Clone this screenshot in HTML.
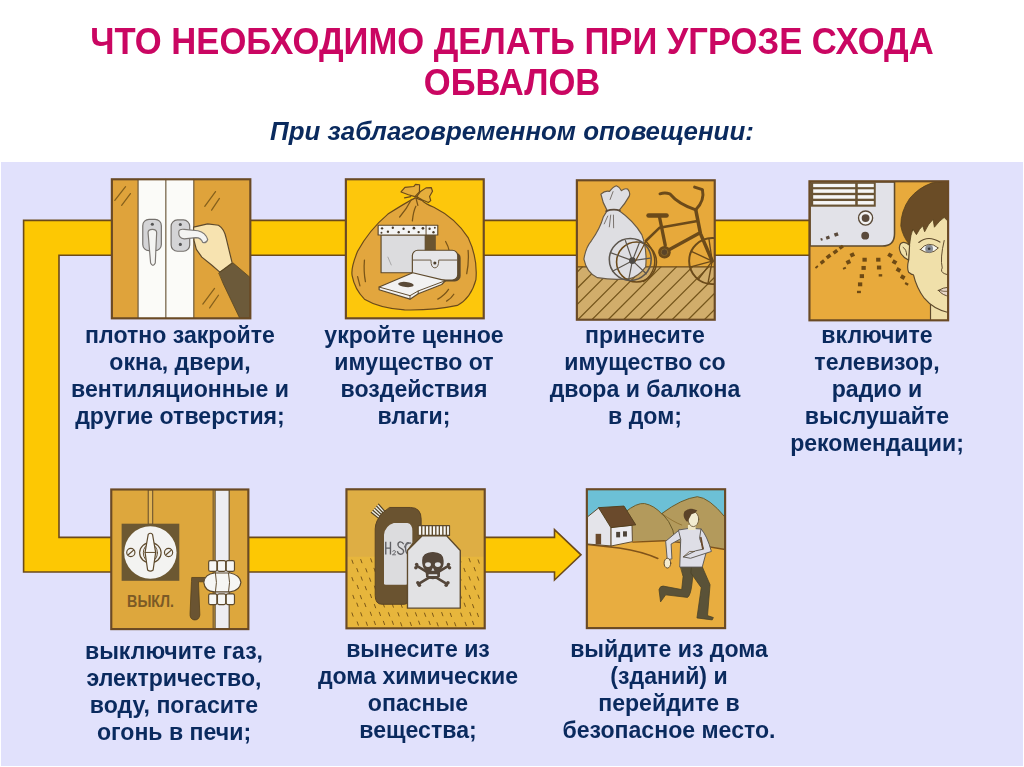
<!DOCTYPE html>
<html><head><meta charset="utf-8">
<style>
html,body{margin:0;padding:0;}
body{width:1024px;height:767px;overflow:hidden;background:#fff;position:relative;font-family:"Liberation Sans",sans-serif;}
#bg{position:absolute;left:1px;top:162px;width:1021.5px;height:604px;background:#e1e1fc;}
#title{position:absolute;left:0px;top:22.2px;width:1024px;text-align:center;color:#ca0662;font-weight:bold;font-size:34.6px;line-height:41px;}
#title div{transform:scaleY(1.05);transform-origin:50% 79.1%;}
#sub{position:absolute;left:0;top:115.9px;width:1024px;text-align:center;color:#0a2a5e;font-weight:bold;font-style:italic;font-size:25.9px;line-height:30px;}
.cap{position:absolute;text-align:center;color:#0a2a5e;font-weight:bold;font-size:23.1px;line-height:27px;width:300px;white-space:nowrap;}
svg{position:absolute;left:0;top:0;}
#title,#sub,.cap{will-change:transform;}
</style></head><body>
<div id="bg"></div>
<div id="title"><div>ЧТО НЕОБХОДИМО ДЕЛАТЬ ПРИ УГРОЗЕ СХОДА</div><div>ОБВАЛОВ</div></div>
<div id="sub">При заблаговременном оповещении:</div>
<svg id="art" width="1024" height="767" viewBox="0 0 1024 767">
<path d="M23.6,220.4 H830 V255.2 H59 V537.4 H554.5 V529.6 L581,554.8 L554.5,580 V572 H23.6 Z" fill="#fdc803" stroke="#6b4a1a" stroke-width="1.6" stroke-linejoin="miter"/>
<!-- P1 window -->
<g transform="translate(106,174) scale(0.195567)" stroke-linejoin="round" stroke-linecap="round">
<rect x="30" y="27" width="708" height="711" fill="#dfa33b"/>
<!-- white frame -->
<rect x="164" y="27" width="285" height="711" fill="#fbfbf8"/>
<g stroke="#6d5a3c" stroke-width="6" fill="none">
<path d="M164,27V738M306,27V738M449,27V738"/>
</g>
<!-- reflections -->
<g stroke="#85601c" stroke-width="6.5" fill="none">
<path d="M45,135L100,65M80,160L125,100"/>
<path d="M505,165L560,90M540,185L580,125"/>
<path d="M495,665L555,585M530,685L575,620"/>
</g>
<!-- left handle -->
<rect x="188" y="232" width="95" height="160" rx="32" fill="#d4d4d6" stroke="#74706c" stroke-width="6"/>
<circle cx="237" cy="257" r="8" fill="#555"/>
<path d="M215,300 Q215,283 237,283 Q259,283 259,300 L252,455 Q240,480 228,455 Z" fill="#f4f4f2" stroke="#7c7874" stroke-width="6"/>
<!-- right handle -->
<rect x="333" y="235" width="95" height="160" rx="32" fill="#d4d4d6" stroke="#74706c" stroke-width="6"/>
<circle cx="380" cy="258" r="8" fill="#555"/>
<circle cx="380" cy="360" r="8" fill="#555"/>
<!-- hand -->
<path d="M448,272 L520,255 L575,262 Q605,280 615,330 L645,455 L582,502 L540,465 L490,425 L462,385 L450,340 Z" fill="#f7e3b0" stroke="#5e4a2c" stroke-width="6"/>
<!-- lever -->
<path d="M372,297 Q372,280 400,283 L470,290 Q510,300 520,335 Q515,355 495,350 Q485,325 460,325 L400,332 Q370,330 372,297 Z" fill="#f4f4f2" stroke="#7c7874" stroke-width="6"/>
<!-- sleeve -->
<path d="M578,505 L650,455 L738,530 L738,738 L684,738 L600,562 Z" fill="#6c5a3a" stroke="#54421f" stroke-width="4"/>
<rect x="30" y="27" width="708" height="711" fill="none" stroke="#6a4a25" stroke-width="11" stroke-linejoin="miter"/>
</g>
<!-- P2 bag -->
<g transform="translate(340,174) scale(0.195567)" stroke-linejoin="round" stroke-linecap="round">
<rect x="30" y="27" width="705" height="711" fill="#fdc70c"/>
<!-- bag -->
<path d="M385,122 Q330,150 245,205 Q150,285 90,395 Q55,480 62,520 Q75,590 125,640 Q200,685 330,695 Q480,698 600,672 Q670,635 695,540 Q705,430 655,325 Q590,225 480,170 Q430,150 420,135 Z" fill="#e2a63e" stroke="#6b4a1a" stroke-width="6"/>
<!-- knot -->
<path d="M383,116 L350,106 L312,92 L332,68 L377,64 L386,53 L407,55 L406,91 Z" fill="#e6ae3c" stroke="#6b4a1a" stroke-width="6"/>
<path d="M392,116 L410,91 L440,71 L467,70 L473,88 L458,115 L464,136 L452,146 L422,133 Z" fill="#e6ae3c" stroke="#6b4a1a" stroke-width="6"/>
<path d="M330,122 L362,116 M383,116 L398,118" stroke="#6b4a1a" stroke-width="6" fill="none"/>
<!-- creases -->
<g stroke="#7a5518" stroke-width="6.5" fill="none">
<path d="M305,220 Q340,180 365,130 M370,240 Q375,190 388,165 M390,130 L398,160"/>
<path d="M125,440 Q120,500 130,550 M90,525 L102,572"/>
<path d="M655,390 Q660,450 648,510"/>
<path d="M500,640 Q535,620 555,590 M545,650 Q570,635 582,615"/>
<path d="M540,345 Q555,370 560,400"/>
</g>
<!-- hat box side dark -->
<rect x="436" y="312" width="54" height="80" fill="#6a5430"/>
<!-- hat box body -->
<rect x="210" y="312" width="226" height="193" fill="#dcdcde" stroke="#5e4a2c" stroke-width="6"/>
<path d="M245,425 L262,465" stroke="#999" stroke-width="4"/>
<!-- lid -->
<rect x="195" y="262" width="305" height="50" fill="#f4f4f4" stroke="#5e4a2c" stroke-width="6"/>
<path d="M440,262V312" stroke="#5e4a2c" stroke-width="5"/>
<g fill="#4a3c2a">
<circle cx="215" cy="278" r="6"/><circle cx="245" cy="295" r="6"/><circle cx="270" cy="275" r="6"/><circle cx="300" cy="298" r="6"/><circle cx="325" cy="280" r="6"/><circle cx="352" cy="296" r="6"/><circle cx="378" cy="277" r="7"/><circle cx="402" cy="297" r="6"/><circle cx="424" cy="278" r="7"/><circle cx="458" cy="280" r="6"/><circle cx="478" cy="298" r="6"/><circle cx="485" cy="275" r="5"/><circle cx="212" cy="300" r="5"/>
</g>
<!-- purse shadow -->
<rect x="385" y="400" width="232" height="150" rx="30" fill="#5e4a2c"/>
<rect x="370" y="390" width="232" height="152" rx="28" fill="#e6e6e8" stroke="#5e4a2c" stroke-width="6"/>
<path d="M372,440 H465 Q465,480 485,480 Q505,480 505,440 H600" fill="none" stroke="#6a5a44" stroke-width="5"/>
<circle cx="485" cy="455" r="8" fill="#4a3c2a"/>
<!-- book -->
<path d="M200,578 L372,505 L540,545 L520,565 L400,612 L358,640 L200,592 Z" fill="#f2f2f2" stroke="#5e4a2c" stroke-width="6"/>
<path d="M200,578 L358,622 L400,598 L540,545 M358,622 V640 M400,598 V612" fill="none" stroke="#5e4a2c" stroke-width="5"/>
<ellipse cx="337" cy="565" rx="40" ry="13" fill="#5a4a38" transform="rotate(6 337 565)"/>
<rect x="30" y="27" width="705" height="711" fill="none" stroke="#6a4a25" stroke-width="11" stroke-linejoin="miter"/>
</g>
<!-- P3 bike -->
<g transform="translate(571,175) scale(0.195567)" stroke-linejoin="round" stroke-linecap="round">
<defs>
<clipPath id="cp3"><rect x="30" y="27" width="705" height="713"/></clipPath>
</defs>
<rect x="30" y="27" width="705" height="713" fill="#e7a93b"/>
<g clip-path="url(#cp3)">
<rect x="30" y="470" width="705" height="270" fill="#d1ad6b"/>
<path d="M30,470H735" stroke="#6b4a1a" stroke-width="6"/>
<g stroke="#75561c" stroke-width="6.5" fill="none">
<path d="M-212,740L58,470M-129,740L141,470M-47,740L223,470M35,740L305,470M107,740L377,470M190,740L460,470M269,740L539,470M351,740L621,470M434,740L704,470M517,740L787,470M599,740L869,470M682,740L952,470"/>
</g>
<!-- rear(right) wheel -->
<g stroke="#6b4a1a" fill="none">
<circle cx="722" cy="440" r="118" stroke-width="10"/>
<path d="M722,440L615,390M722,440L612,470M722,440L650,535M722,440L705,325M722,440L700,555" stroke-width="7"/>
</g>
<!-- sack -->
<path d="M185,182 Q160,140 153,98 Q175,78 197,84 Q215,60 232,55 Q250,62 258,80 Q275,66 290,72 Q305,90 298,108 Q275,150 245,182 Q320,235 362,305 Q390,380 382,470 Q345,520 300,530 Q220,540 135,525 Q80,500 66,430 Q75,370 105,335 Q150,270 165,215 Z" fill="#dedee2" stroke="#6a5a44" stroke-width="6"/>
<path d="M180,185 Q215,172 250,182" stroke="#5a4a3a" stroke-width="9" fill="none"/>
<path d="M200,125L215,85M188,210L170,250M203,205L196,265M217,205L218,270" stroke="#77706a" stroke-width="5" fill="none"/>
<!-- second wheel brown behind -->
<g stroke="#6b4a1a" fill="none">
<circle cx="335" cy="445" r="102" stroke-width="8"/>
<path d="M380,335 Q440,400 425,470 Q410,520 370,545" stroke-width="7"/>
</g>
<!-- front small wheel gray -->
<g stroke="#5c564e" fill="none">
<circle cx="303" cy="432" r="107" stroke-width="8"/>
<path d="M314,438L205,398M314,438L212,492M314,438L295,535M314,438L278,335M314,438L352,340M314,438L405,425M314,438L385,505" stroke-width="6"/>
</g>
<circle cx="314" cy="438" r="17" fill="#4e4a44"/>
<!-- frame -->
<g stroke="#6b4a1a" fill="none">
<path d="M397,207H488" stroke-width="24"/>
<path d="M452,212L482,360" stroke-width="17"/>
<path d="M385,335L452,270L640,237" stroke-width="13"/>
<path d="M478,395L655,298" stroke-width="17"/>
<path d="M638,178L662,300L722,440" stroke-width="18"/>
<path d="M455,96 Q480,88 505,96 Q550,150 638,178" stroke-width="15"/>
<path d="M638,178 Q685,130 672,75 L632,62" stroke-width="15"/>
<path d="M385,335L330,440" stroke-width="6"/>
</g>
<circle cx="478" cy="395" r="32" fill="#6b4a1a"/>
<circle cx="478" cy="395" r="17" fill="#5a4428" stroke="#8a6a30" stroke-width="4"/>
</g>
<rect x="30" y="27" width="705" height="713" fill="none" stroke="#6a4a25" stroke-width="11" stroke-linejoin="miter"/>
</g>
<!-- P4 radio -->
<g transform="translate(803,176) scale(0.195567)" stroke-linejoin="round" stroke-linecap="round">
<defs><clipPath id="cp4"><rect x="33" y="27" width="709" height="711"/></clipPath></defs>
<rect x="33" y="27" width="709" height="711" fill="#e8aa3c"/>
<g clip-path="url(#cp4)">
<!-- radio -->
<path d="M36,30 H468 V295 Q468,358 405,358 H36 Z" fill="#e2e2e8" stroke="#5e4a2c" stroke-width="8"/>
<rect x="40" y="33" width="332" height="124" fill="#6a5434"/>
<g fill="#f6f6f6">
<rect x="52" y="40" width="215" height="17"/><rect x="52" y="68" width="215" height="18"/><rect x="52" y="98" width="215" height="18"/><rect x="52" y="128" width="215" height="18"/>
<rect x="280" y="40" width="82" height="17"/><rect x="280" y="68" width="82" height="18"/><rect x="280" y="98" width="82" height="18"/><rect x="280" y="128" width="82" height="18"/>
</g>
<circle cx="320" cy="215" r="36" fill="#f2f2f2" stroke="#5a4a38" stroke-width="7"/>
<circle cx="320" cy="215" r="20" fill="#5a4a3c"/>
<circle cx="318" cy="305" r="20" fill="#5a4a3c"/>
<g fill="#5a4a3c"><rect x="160" y="290" width="20" height="18" transform="rotate(-20 170 299)"/><rect x="118" y="307" width="18" height="16" transform="rotate(-20 127 315)"/><rect x="90" y="318" width="10" height="12" transform="rotate(-20 95 324)"/></g>
<!-- sound dots -->
<g fill="#6e4a14">
<g transform="rotate(-38 195 365)"><rect x="185" y="357" width="22" height="16"/></g>
<g transform="rotate(-38 165 388)"><rect x="154" y="379" width="24" height="18"/></g>
<g transform="rotate(-38 130 412)"><rect x="119" y="403" width="24" height="18"/></g>
<g transform="rotate(-38 98 440)"><rect x="88" y="432" width="22" height="17"/></g>
<g transform="rotate(-38 70 465)"><rect x="62" y="460" width="16" height="10"/></g>
<g transform="rotate(-25 252 403)"><rect x="241" y="393" width="22" height="20"/></g>
<g transform="rotate(-25 232 440)"><rect x="221" y="430" width="22" height="20"/></g>
<g transform="rotate(-25 212 472)"><rect x="204" y="467" width="16" height="10"/></g>
<rect x="304" y="418" width="22" height="20"/><rect x="299" y="460" width="22" height="20"/><rect x="290" y="502" width="22" height="20"/><rect x="281" y="544" width="22" height="20"/><rect x="276" y="587" width="20" height="12"/>
<rect x="374" y="418" width="22" height="20"/><rect x="378" y="458" width="22" height="20"/><rect x="387" y="502" width="18" height="12"/>
<g transform="rotate(30 445 405)"><rect x="434" y="395" width="22" height="20"/></g>
<g transform="rotate(30 468 440)"><rect x="457" y="430" width="22" height="20"/></g>
<g transform="rotate(30 488 480)"><rect x="477" y="470" width="22" height="20"/></g>
<g transform="rotate(30 510 517)"><rect x="499" y="507" width="22" height="20"/></g>
<g transform="rotate(30 530 552)"><rect x="521" y="546" width="18" height="12"/></g>
</g>
<!-- neck -->
<path d="M652,640 L652,745 L750,745 L750,660 Z" fill="#efdfa8" stroke="#5e4a2c" stroke-width="6"/>
<!-- face -->
<path d="M548,290 Q540,360 540,430 Q530,470 540,492 Q555,505 565,505 Q580,570 620,625 Q670,685 750,700 L750,200 L600,230 Z" fill="#f0e0aa" stroke="#5e4a2c" stroke-width="6"/>
<!-- ear -->
<path d="M545,355 Q520,330 500,345 Q485,365 500,395 Q515,420 540,430 Z" fill="#f0e0aa" stroke="#5e4a2c" stroke-width="6"/>
<path d="M512,365 Q530,375 530,405" fill="none" stroke="#5e4a2c" stroke-width="5"/>
<!-- hair -->
<path d="M750,25 L660,35 Q590,60 545,115 Q500,180 500,255 Q510,310 545,352 Q550,300 562,272 L580,300 Q595,270 612,255 L622,285 Q640,245 665,222 L672,262 Q700,225 722,212 L750,240 Z" fill="#6a4c26" stroke="#54401e" stroke-width="4"/>
<!-- eye -->
<path d="M600,376 Q640,326 692,368 Q650,412 600,376 Z" fill="#f6f6f0" stroke="#5e4a2c" stroke-width="5"/>
<circle cx="645" cy="372" r="20" fill="#8a8f96"/>
<circle cx="645" cy="372" r="7" fill="#3a3a3a"/>
<path d="M592,340 Q640,300 700,338" fill="none" stroke="#5e4a2c" stroke-width="6"/>
<!-- nose -->
<path d="M722,330 Q700,420 712,470 Q700,490 725,500 L750,508" fill="none" stroke="#5e4a2c" stroke-width="5"/>
<!-- mouth -->
<path d="M692,585 Q715,570 750,568 L750,615 Q715,612 692,585 Z" fill="#e8d8c8" stroke="#5e4a2c" stroke-width="5"/>
<path d="M692,585 Q720,592 750,590" fill="none" stroke="#5e4a2c" stroke-width="4"/>
</g>
<rect x="33" y="27" width="709" height="711" fill="none" stroke="#6a4a25" stroke-width="11" stroke-linejoin="miter"/>
</g>
<!-- P5 switch/valve -->
<g transform="translate(105,484) scale(0.195567)" stroke-linejoin="round" stroke-linecap="round">
<rect x="32" y="28" width="701" height="714" fill="#dda73d"/>
<!-- wire -->
<rect x="223" y="30" width="21" height="176" fill="#e3b555" stroke="#5e4a2c" stroke-width="5"/>
<!-- panel -->
<rect x="85" y="203" width="295" height="292" fill="#6c5832"/>
<circle cx="232" cy="350" r="134" fill="#f3f3f1"/>
<!-- toggle -->
<ellipse cx="232" cy="352" rx="55" ry="52" fill="none" stroke="#5e4a2c" stroke-width="6"/>
<ellipse cx="232" cy="352" rx="36" ry="46" fill="none" stroke="#5e4a2c" stroke-width="5"/>
<path d="M221,258 Q232,246 243,258 L259,350 L246,440 Q232,452 218,440 L205,350 Z" fill="#f8f8f6" stroke="#5e4a2c" stroke-width="6"/>
<path d="M205,350H259" stroke="#5e4a2c" stroke-width="5"/>
<!-- screws -->
<circle cx="132" cy="350" r="21" fill="#f3f3f1" stroke="#5e4a2c" stroke-width="6"/>
<path d="M119,362L146,338" stroke="#5e4a2c" stroke-width="6"/>
<circle cx="325" cy="350" r="21" fill="#f3f3f1" stroke="#5e4a2c" stroke-width="6"/>
<path d="M312,362L339,338" stroke="#5e4a2c" stroke-width="6"/>
<!-- text -->
<text x="113" y="628" font-family="Liberation Sans, sans-serif" font-weight="bold" font-size="82" fill="#7b5a26" textLength="240" lengthAdjust="spacingAndGlyphs">ВЫКЛ.</text>
<!-- pipe -->
<path d="M553,30V740" stroke="#5e4a2c" stroke-width="5"/>
<rect x="563" y="30" width="72" height="712" fill="#ededf2" stroke="#5e4a2c" stroke-width="6"/>
<!-- handle -->
<path d="M445,478 H520 V500 H478 L485,670 Q480,698 455,695 Q432,690 435,660 L442,500 Z" fill="#6a5432" stroke="#54401e" stroke-width="4"/>
<!-- nuts -->
<g fill="#f6f6f4" stroke="#5e4a2c" stroke-width="6">
<rect x="530" y="392" width="42" height="55" rx="8"/><rect x="575" y="392" width="42" height="55" rx="8"/><rect x="620" y="392" width="42" height="55" rx="8"/>
<rect x="530" y="562" width="42" height="55" rx="8"/><rect x="575" y="562" width="42" height="55" rx="8"/><rect x="620" y="562" width="42" height="55" rx="8"/>
<path d="M505,503 Q510,460 560,455 H640 Q690,465 695,503 Q690,545 640,552 H560 Q510,548 505,503 Z"/>
</g>
<path d="M565,457 Q575,503 565,550 M632,457 Q642,503 632,550" fill="none" stroke="#5e4a2c" stroke-width="5"/>
<rect x="32" y="28" width="701" height="714" fill="none" stroke="#6a4a25" stroke-width="11" stroke-linejoin="miter"/>
</g>
<!-- P6 chemicals -->
<g transform="translate(340,484) scale(0.195567)" stroke-linejoin="round" stroke-linecap="round">
<defs><clipPath id="cp6"><rect x="33" y="27" width="707" height="711"/></clipPath></defs>
<rect x="33" y="27" width="707" height="711" fill="#deae44"/>
<g clip-path="url(#cp6)">
<rect x="33" y="372" width="707" height="370" fill="#e7b63c"/>
<path d="M61,389l6,17M106,386l6,17M157,382l6,17M196,388l6,17M246,389l6,17M291,384l6,17M341,389l6,17M388,388l6,17M432,383l6,17M475,383l6,17M526,387l6,17M564,382l6,17M612,381l6,17M660,381l6,17M706,388l6,17M86,432l6,17M132,433l6,17M174,431l6,17M219,426l6,17M266,433l6,17M313,430l6,17M362,430l6,17M408,434l6,17M454,431l6,17M502,432l6,17M543,431l6,17M586,430l6,17M634,431l6,17M686,427l6,17M61,478l6,17M108,475l6,17M151,481l6,17M203,475l6,17M247,475l6,17M294,476l6,17M334,478l6,17M386,480l6,17M427,474l6,17M472,480l6,17M523,482l6,17M568,482l6,17M613,474l6,17M660,474l6,17M703,475l6,17M88,518l6,17M129,524l6,17M176,522l6,17M220,518l6,17M269,523l6,17M315,520l6,17M362,524l6,17M409,526l6,17M454,526l6,17M495,526l6,17M544,524l6,17M589,522l6,17M638,522l6,17M686,522l6,17M66,569l6,17M104,570l6,17M155,564l6,17M202,566l6,17M242,569l6,17M295,569l6,17M339,568l6,17M387,564l6,17M426,564l6,17M477,568l6,17M525,568l6,17M569,566l6,17M615,566l6,17M661,569l6,17M706,568l6,17M86,609l6,17M126,610l6,17M176,616l6,17M221,612l6,17M267,613l6,17M312,614l6,17M357,609l6,17M407,613l6,17M451,615l6,17M496,609l6,17M545,611l6,17M593,612l6,17M635,609l6,17M678,616l6,17M61,659l6,17M106,658l6,17M155,655l6,17M201,656l6,17M248,658l6,17M296,658l6,17M341,659l6,17M386,658l6,17M432,660l6,17M472,660l6,17M520,657l6,17M564,661l6,17M618,660l6,17M664,657l6,17M702,661l6,17M88,705l6,17M134,706l6,17M175,702l6,17M222,702l6,17M267,701l6,17M310,709l6,17M359,707l6,17M402,701l6,17M455,702l6,17M496,709l6,17M544,704l6,17M586,709l6,17M640,707l6,17M678,702l6,17" stroke="#7a5618" stroke-width="5" fill="none"/>
<!-- jug cap -->
<path d="M197,103L235,146L204,181L160,146Z" fill="#ecece4"/>
<path d="M160.0,146.0L204.0,181.0M169.2,135.2L211.8,172.2M178.5,124.5L219.5,163.5M187.8,113.8L227.2,154.8M197.0,103.0L235.0,146.0" stroke="#4e4026" stroke-width="6" fill="none"/>
<!-- jug -->
<path d="M255,120 H360 Q415,120 415,180 V290 L345,340 V600 Q345,615 330,615 H215 Q180,615 180,570 V230 Q180,190 215,150 Z" fill="#6a5330" stroke="#5a4424" stroke-width="5"/>
<path d="M225,510 V260 Q230,215 275,200 H345 Q370,205 370,240 V300 L345,335 V510 Q345,515 335,515 H235 Q225,515 225,510 Z" fill="#dcdcde"/>
<g fill="none" stroke="#606064" stroke-width="7" stroke-linecap="butt"><path d="M234,295V360M258,295V360M234,328H258"/><path d="M268,345 Q277,335 284,344 Q286,352 268,362 H286" stroke-width="4.5"/><path d="M326,308 Q318,294 306,296 Q294,300 297,314 Q300,324 312,329 Q328,336 325,349 Q320,361 308,359 Q296,357 293,344"/><path d="M352,300 Q336,296 335,326 Q336,358 350,358"/></g>
<!-- bottle -->
<path d="M345,635 V340 L420,265 H545 L615,340 V635 Z" fill="#e2e2e4" stroke="#5e4a2c" stroke-width="7"/>
<rect x="400" y="213" width="160" height="50" fill="#f6f6f4" stroke="#5e4a2c" stroke-width="6"/>
<path d="M418,216V260M436,216V260M454,216V260M472,216V260M490,216V260M508,216V260M526,216V260M544,216V260" stroke="#5e4a2c" stroke-width="7"/>
<path d="M330,322 Q340,300 362,302" fill="none" stroke="#6e6e72" stroke-width="7"/>
<!-- skull -->
<g fill="#54463a" stroke="none">
<path d="M420,390 Q420,350 475,348 Q530,350 530,392 Q532,425 512,440 L510,475 Q475,500 440,475 L438,440 Q418,425 420,390 Z"/>
</g>
<g stroke="#54463a" stroke-width="13" fill="none"><path d="M395,420L548,512M552,420L400,512"/></g>
<g fill="#54463a"><circle cx="392" cy="412" r="9"/><circle cx="388" cy="428" r="9"/><circle cx="555" cy="412" r="9"/><circle cx="560" cy="428" r="9"/><circle cx="398" cy="505" r="9"/><circle cx="406" cy="518" r="9"/><circle cx="552" cy="505" r="9"/><circle cx="543" cy="518" r="9"/></g>
<path d="M425,395 Q420,352 475,350 Q530,352 526,395 Q530,425 512,440 L510,472 Q475,498 440,472 L438,440 Q420,425 425,395 Z" fill="#54463a"/>
<g fill="#e2e2e4"><ellipse cx="450" cy="412" rx="15" ry="12"/><ellipse cx="500" cy="412" rx="15" ry="12"/><path d="M475,428l8,16h-16z"/><rect x="452" y="462" width="46" height="8" rx="3"/></g>
</g>
<rect x="33" y="27" width="707" height="711" fill="none" stroke="#6a4a25" stroke-width="11" stroke-linejoin="miter"/>
</g>
<!-- P7 running man -->
<g transform="translate(580,483) scale(0.195567)" stroke-linejoin="round" stroke-linecap="round">
<defs><clipPath id="cp7"><rect x="35" y="32" width="707" height="710"/></clipPath></defs>
<rect x="35" y="32" width="707" height="710" fill="#6cc0d6"/>
<g clip-path="url(#cp7)">
<!-- hills -->
<path d="M230,150 Q290,100 330,105 Q380,115 420,160 Q520,230 560,300 L230,310 Z" fill="#b39a5c" stroke="#6b5a2a" stroke-width="5"/>
<path d="M420,155 Q520,80 600,70 Q660,75 742,175 L760,360 L480,330 Q500,240 420,155 Z" fill="#b39a5c" stroke="#6b5a2a" stroke-width="5"/>
<path d="M420,158 Q480,200 520,215" fill="none" stroke="#8a6a2a" stroke-width="4"/>
<!-- ground -->
<path d="M20,296 L270,296 L430,295 L560,310 L760,342 V760 H20 Z" fill="#e8ad40"/>
<path d="M270,302 L430,295 L560,310 L742,340" fill="none" stroke="#80531a" stroke-width="7"/>
<path d="M38,314 L200,332 Q320,350 398,386" fill="none" stroke="#80531a" stroke-width="8"/>
<!-- house -->
<path d="M40,172 L97,126 L160,226 V322 L40,312 Z" fill="#e4e4ea" stroke="#5e4a2c" stroke-width="5"/>
<path d="M160,226 L266,216 L268,300 L160,322 Z" fill="#ececf0" stroke="#5e4a2c" stroke-width="5"/>
<path d="M97,126 L225,118 L285,214 L160,228 Z" fill="#6a4a2c" stroke="#54401e" stroke-width="5"/>
<rect x="80" y="260" width="28" height="54" fill="#6a4a2c"/>
<rect x="185" y="250" width="20" height="28" fill="#4e4438"/><rect x="220" y="247" width="20" height="27" fill="#4e4438"/>
<!-- back leg -->
<path d="M515,428 L582,428 L572,520 Q565,575 550,585 L438,572 L412,608 L404,545 Q410,525 425,527 L520,545 L527,480 Z" fill="#5a5238" stroke="#4a4228" stroke-width="4"/>
<!-- front leg -->
<path d="M572,428 L625,428 L665,520 L652,678 L682,688 L676,700 L598,690 L620,535 L568,462 Z" fill="#5a5238" stroke="#4a4228" stroke-width="4"/>
<!-- back arm -->
<path d="M510,238 L438,298 L446,392 L470,388 L466,312 L520,282 Z" fill="#dedee6" stroke="#5e5a54" stroke-width="5"/>
<!-- torso -->
<path d="M505,240 Q560,225 620,235 L652,330 L625,430 H510 L515,290 Z" fill="#dedee6" stroke="#5e5a54" stroke-width="5"/>
<!-- neck -->
<path d="M552,215 L590,215 L592,240 L552,240 Z" fill="#f0e8c8"/>
<!-- front arm -->
<path d="M620,236 Q650,270 672,350 L565,385 L528,378 L590,347 L632,338 L612,285 Z" fill="#dedee6" stroke="#5e5a54" stroke-width="5"/>
<path d="M618,280 L628,335" stroke="#6a4a2c" stroke-width="9" fill="none"/>
<!-- hand -->
<ellipse cx="447" cy="410" rx="17" ry="25" fill="#f4ecd0" stroke="#5e4a2c" stroke-width="5"/>
<path d="M528,378 L560,350 L585,350" fill="none" stroke="#5e4a2c" stroke-width="4"/>
<!-- head -->
<ellipse cx="580" cy="185" rx="27" ry="38" fill="#f2ecd0" stroke="#5e4a2c" stroke-width="4"/>
<path d="M548,200 Q520,170 535,145 Q560,120 600,140 Q590,155 570,160 Q560,180 548,200 Z" fill="#5a4228"/>
</g>
<rect x="35" y="32" width="707" height="710" fill="none" stroke="#6a4a25" stroke-width="11" stroke-linejoin="miter"/>
</g>
</svg>
<div class="cap" id="c1" style="left:30px;top:321.6px;">плотно закройте<br>окна, двери,<br>вентиляционные и<br>другие отверстия;</div>
<div class="cap" id="c2" style="left:264px;top:321.6px;">укройте ценное<br>имущество от<br>воздействия<br>влаги;</div>
<div class="cap" id="c3" style="left:494.5px;top:321.6px;">принесите<br>имущество со<br>двора и балкона<br>в дом;</div>
<div class="cap" id="c4" style="left:726.5px;top:321.6px;">включите<br>телевизор,<br>радио и<br>выслушайте<br>рекомендации;</div>
<div class="cap" id="c5" style="left:24px;top:638px;">выключите газ,<br>электричество,<br>воду, погасите<br>огонь в печи;</div>
<div class="cap" id="c6" style="left:267.5px;top:635.8px;">вынесите из<br>дома химические<br>опасные<br>вещества;</div>
<div class="cap" id="c7" style="left:519px;top:635.8px;">выйдите из дома<br>(зданий) и<br>перейдите в<br>безопасное место.</div>
</body></html>
